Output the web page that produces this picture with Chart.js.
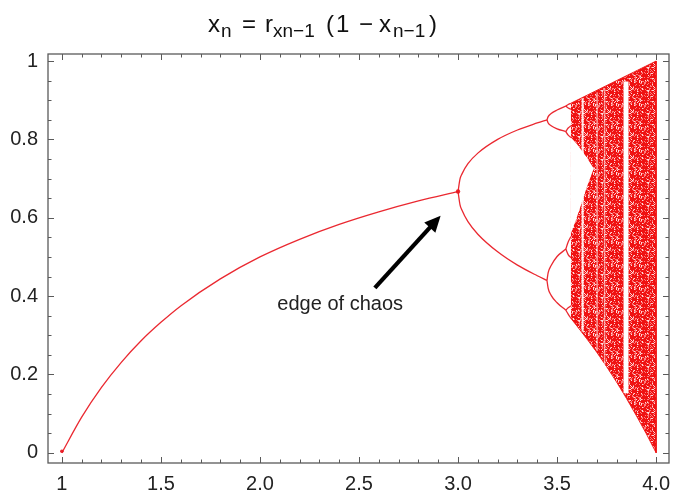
<!DOCTYPE html>
<html>
<head>
<meta charset="utf-8">
<script src="https://cdn.jsdelivr.net/npm/chart.js@4.4.1/dist/chart.umd.min.js"></script>
<style>
  html, body { margin: 0; padding: 0; background: #fff; }
  #wrap { width: 673px; height: 497px; }
</style>
</head>
<body>
<div id="wrap"><canvas id="bifurcation" width="673" height="497"></canvas></div>
<script>
// axis ticks
const xTickValues = [1, 1.5, 2, 2.5, 3, 3.5, 4];
const xTickLabels = ["1", "1.5", "2.0", "2.5", "3.0", "3.5", "4.0"];
const yTickValues = [0, 0.2, 0.4, 0.6, 0.8, 1];
const yTickLabels = ["0", "0.2", "0.4", "0.6", "0.8", "1"];

// stable fixed point
const rFixed = [1.0, 1.1, 1.2, 1.3, 1.4, 1.5, 1.6, 1.8, 2.0, 2.2, 2.4, 2.6, 2.8, 3.0];
const xFixed = [0.0, 0.091, 0.167, 0.231, 0.286, 0.333, 0.375, 0.444, 0.5, 0.545, 0.583, 0.615, 0.643, 0.667];

// period 2
const rPeriod2 = [3.0, 3.01, 3.02, 3.05, 3.1, 3.2, 3.3, 3.4, 3.449];
const xPeriod2Upper = [0.667, 0.699, 0.712, 0.738, 0.765, 0.80, 0.824, 0.842, 0.850];
const xPeriod2Lower = [0.667, 0.633, 0.619, 0.590, 0.558, 0.513, 0.479, 0.452, 0.440];

// period 4
const rPeriod4 = [3.449, 3.455, 3.47, 3.5, 3.544];
const xPeriod4 = [
  [0.850, 0.858, 0.866, 0.875, 0.885],
  [0.850, 0.842, 0.835, 0.827, 0.820],
  [0.440, 0.460, 0.478, 0.501, 0.520],
  [0.440, 0.420, 0.402, 0.383, 0.364]
];

// period 8
const rPeriod8 = [3.544, 3.556, 3.57];
const xPeriod8 = [
  [0.885, 0.889, 0.892], [0.885, 0.880, 0.877],
  [0.820, 0.829, 0.835], [0.820, 0.811, 0.805],
  [0.520, 0.538, 0.552], [0.520, 0.506, 0.498],
  [0.364, 0.370, 0.375], [0.364, 0.354, 0.343]
];

// chaotic band outline
const rChaosTop = [3.57, 4.0];
const xChaosTop = [0.8925, 1.0];
const rChaosBottom = [3.57, 3.6, 3.65, 3.7, 3.75, 3.8, 3.85, 3.9, 3.95, 4.0];
const xChaosBottom = [0.343, 0.324, 0.291, 0.257, 0.220, 0.181, 0.139, 0.095, 0.049, 0.0];

// empty gap between the two bands before they merge
const rGapUpper = [3.57, 3.6, 3.65, 3.685];
const xGapUpper = [0.805, 0.788, 0.754, 0.726];
const rGapLower = [3.57, 3.6, 3.65];
const xGapLower = [0.560, 0.601, 0.678];

// periodic windows (white stripes)
const rWindows = [3.629, 3.702, 3.74, 3.848];
const xWindowTop = [0.905, 0.92, 0.93, 0.948];
const xWindowBottom = [0.31, 0.26, 0.225, 0.152];
const windowWidth = [2, 1, 1.5, 5];
const windowColor = ["rgba(255,255,255,0.9)", "rgba(255,255,255,0.35)", "rgba(255,255,255,0.55)", "#fff"];

// annotation
const arrowFrom = { x: 2.58, y: 0.421 };
const arrowTo = { x: 2.912, y: 0.605 };
const noteAt = { x: 2.405, y: 0.378 };
const noteText = "edge of chaos";

const RED = "rgba(232,22,30,0.92)";
const FONT = "'Liberation Sans', Arial, Helvetica, sans-serif";

const pts = (rs, xs) => rs.map((r, i) => ({ x: r, y: xs[i] }));

// fine speckle texture for the dense scatter region (hashed pixel grid, no data)
function speckle() {
  const n = 23;
  const c = document.createElement("canvas");
  c.width = n; c.height = n;
  const g = c.getContext("2d");
  g.fillStyle = "#ef1212";
  g.fillRect(0, 0, n, n);
  for (let j = 0; j < n; j++) {
    for (let i = 0; i < n; i++) {
      let h = Math.imul(i + 1, 374761393) + Math.imul(j + 1, 668265263);
      h = Math.imul(h ^ (h >>> 13), 1274126177);
      h = ((h ^ (h >>> 16)) >>> 0) % 100;
      if (h < 30) {
        g.fillStyle = h < 9 ? "rgba(255,255,255,0.85)" : "rgba(255,180,180,0.65)";
        g.fillRect(i, j, 1, 1);
      }
    }
  }
  return g.createPattern(c, "repeat");
}

function branch(data) {
  return { data, showLine: true, borderColor: RED, borderWidth: 1.3, pointRadius: 0,
           cubicInterpolationMode: "monotone", fill: false, order: 1 };
}

const datasets = [];
datasets.push(branch(pts(rFixed, xFixed)));
datasets.push(branch(pts(rPeriod2, xPeriod2Upper)));
datasets.push(branch(pts(rPeriod2, xPeriod2Lower)));
xPeriod4.forEach(xs => datasets.push(branch(pts(rPeriod4, xs))));
xPeriod8.forEach(xs => datasets.push(branch(pts(rPeriod8, xs))));
// blobs where convergence is slow
datasets.push({ data: [{ x: 3.0, y: 0.667 }, { x: 1.0, y: 0.004 }], showLine: false,
                pointRadius: [2.2, 1.8], pointBackgroundColor: RED, pointBorderWidth: 0, order: 1 });

rWindows.forEach((r, i) => {
  datasets.push({ data: [{ x: r, y: xWindowTop[i] }, { x: r, y: xWindowBottom[i] }], showLine: true,
                  borderColor: windowColor[i], borderWidth: windowWidth[i], pointRadius: 0, order: 2 });
});

datasets.push({
  data: pts(rGapUpper, xGapUpper).concat(pts(rGapLower, xGapLower).reverse()),
  showLine: true, fill: "shape", backgroundColor: "#fff", borderColor: "rgba(255,255,255,0)",
  borderWidth: 0, pointRadius: 0, order: 3
});

datasets.push({
  data: pts(rChaosTop, xChaosTop).concat(pts(rChaosBottom, xChaosBottom).reverse()),
  showLine: true, fill: "shape", backgroundColor: speckle(), borderColor: "rgba(240,20,20,0.9)",
  borderWidth: 1, pointRadius: 0, order: 4
});

const framePlugin = {
  id: "frame",
  afterDatasetsDraw(chart) {
    const { ctx, chartArea: a, scales: { x, y } } = chart;
    ctx.save();
    ctx.strokeStyle = "#5a5a5a";
    ctx.lineWidth = 1.3;
    ctx.strokeRect(a.left, a.top, a.right - a.left, a.bottom - a.top);
    ctx.lineWidth = 1;
    ctx.beginPath();
    for (let i = 10; i <= 40; i++) {
      const px = Math.round(x.getPixelForValue(i / 10)) + 0.5;
      const len = i % 5 === 0 ? 6 : 3.5;
      ctx.moveTo(px, a.bottom); ctx.lineTo(px, a.bottom - len);
      ctx.moveTo(px, a.top); ctx.lineTo(px, a.top + len);
    }
    for (let i = 0; i <= 20; i++) {
      const py = Math.round(y.getPixelForValue(i / 20)) + 0.5;
      const len = i % 4 === 0 ? 6 : 3.5;
      ctx.moveTo(a.left, py); ctx.lineTo(a.left + len, py);
      ctx.moveTo(a.right, py); ctx.lineTo(a.right - len, py);
    }
    ctx.stroke();
    ctx.restore();
  }
};

const notePlugin = {
  id: "note",
  afterDatasetsDraw(chart) {
    const { ctx, scales: { x, y } } = chart;
    const x0 = x.getPixelForValue(arrowFrom.x), y0 = y.getPixelForValue(arrowFrom.y);
    const x1 = x.getPixelForValue(arrowTo.x), y1 = y.getPixelForValue(arrowTo.y);
    const ang = Math.atan2(y1 - y0, x1 - x0);
    const head = 16, half = 7.5;
    const bx = x1 - head * Math.cos(ang), by = y1 - head * Math.sin(ang);
    ctx.save();
    ctx.strokeStyle = "#000";
    ctx.fillStyle = "#000";
    ctx.lineWidth = 4.2;
    ctx.beginPath();
    ctx.moveTo(x0, y0);
    ctx.lineTo(bx + 2 * Math.cos(ang), by + 2 * Math.sin(ang));
    ctx.stroke();
    ctx.beginPath();
    ctx.moveTo(x1, y1);
    ctx.lineTo(bx + half * Math.sin(ang), by - half * Math.cos(ang));
    ctx.lineTo(bx - half * Math.sin(ang), by + half * Math.cos(ang));
    ctx.closePath();
    ctx.fill();
    ctx.fillStyle = "#222";
    ctx.font = "20px " + FONT;
    ctx.textAlign = "center";
    ctx.textBaseline = "middle";
    ctx.fillText(noteText, x.getPixelForValue(noteAt.x), y.getPixelForValue(noteAt.y));
    ctx.restore();
  }
};

// title with subscripts: x_n = r_{xn-1} (1 - x_{n-1})
const titlePlugin = {
  id: "formula",
  afterDraw(chart) {
    const { ctx } = chart;
    const main = "24px " + FONT, sub = "19px " + FONT;
    const base = 32, subBase = 37;
    const parts = [
      ["x", main, 208, base], ["n", sub, 221, subBase], ["=", main, 242, base],
      ["r", main, 265, base], ["xn\u22121", sub, 273, subBase], ["(", main, 326, base],
      ["1", main, 336, base], ["\u2212", main, 359, base], ["x", main, 379, base],
      ["n\u22121", sub, 393, subBase], [")", main, 429, base]
    ];
    ctx.save();
    ctx.fillStyle = "#111";
    ctx.textBaseline = "alphabetic";
    ctx.textAlign = "left";
    parts.forEach(([t, f, px, py]) => { ctx.font = f; ctx.fillText(t, px, py); });
    ctx.restore();
  }
};

new Chart(document.getElementById("bifurcation"), {
  type: "scatter",
  data: { datasets },
  options: {
    responsive: false,
    animation: false,
    events: [],
    layout: { padding: { top: 54, right: 0, left: 0, bottom: 0 } },
    plugins: { legend: { display: false }, tooltip: { enabled: false }, title: { display: false } },
    scales: {
      x: {
        type: "linear", min: 0.93, max: 4.065,
        grid: { display: false, drawTicks: false }, border: { display: false },
        afterBuildTicks: s => { s.ticks = xTickValues.map(v => ({ value: v })); },
        afterFit: s => { s.height = 34; s.paddingLeft = 0; s.paddingRight = 0; },
        ticks: {
          autoSkip: false, maxRotation: 0, padding: 9, color: "#222",
          font: { size: 20, family: FONT },
          callback: v => xTickLabels[xTickValues.indexOf(v)]
        }
      },
      y: {
        type: "linear", min: -0.026, max: 1.018,
        grid: { display: false, drawTicks: false }, border: { display: false },
        afterBuildTicks: s => { s.ticks = yTickValues.map(v => ({ value: v })); },
        afterFit: s => { s.width = 48; s.paddingTop = 0; s.paddingBottom = 0; },
        ticks: {
          autoSkip: false, padding: 10, color: "#222",
          font: { size: 20, family: FONT },
          callback: v => yTickLabels[yTickValues.indexOf(v)]
        }
      }
    }
  },
  plugins: [framePlugin, notePlugin, titlePlugin]
});
</script>
</body>
</html>
